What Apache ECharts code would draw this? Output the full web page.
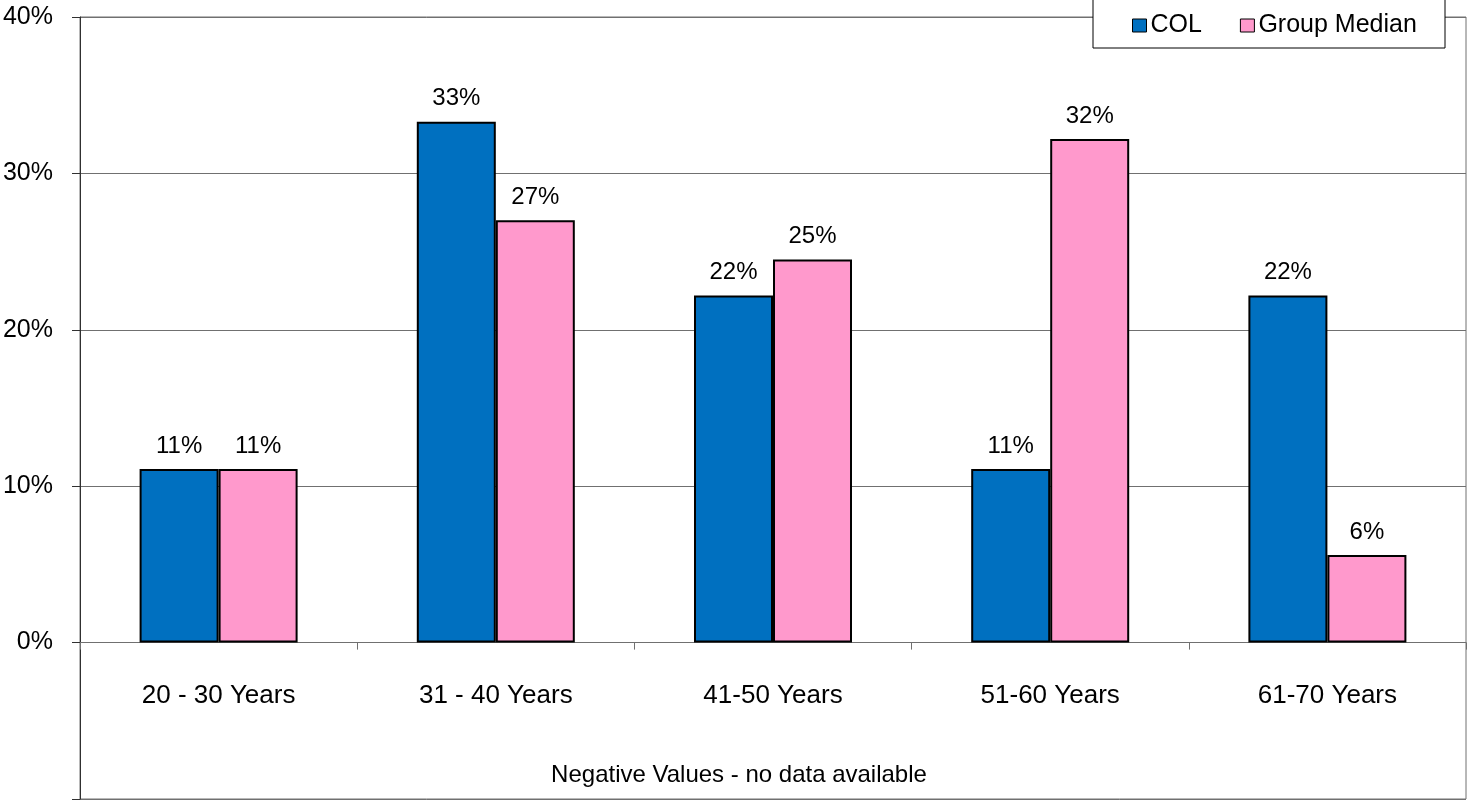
<!DOCTYPE html>
<html>
<head>
<meta charset="utf-8">
<title>Age Distribution</title>
<script src="https://cdn.jsdelivr.net/npm/echarts@6/dist/echarts.min.js"></script>
<style>
  html, body { margin: 0; padding: 0; background: #fff; }
  #chart { width: 1467px; height: 800px; }
</style>
</head>
<body>
<div id="chart"></div>
<script>
// Age bands and share of people in each band (percent)
const categories = ['20 - 30 Years', '31 - 40 Years', '41-50 Years', '51-60 Years', '61-70 Years'];
const colValues = [11.1, 33.3, 22.2, 11.1, 22.2];
const medianValues = [11.1, 27.0, 24.5, 32.2, 5.6];
const seriesNames = ['COL', 'Group Median'];
const noteText = 'Negative Values - no data available';

const FONT = 'Arial, "Liberation Sans", sans-serif';

const Y_MIN = -10;
const Y_MAX = 40;
const GRID_TOP = 17;
const GRID_BOTTOM = 1;
const CHART_H = 800;

// The category axis sits on the 0% line, which is above the grid's bottom edge
const plotH = CHART_H - GRID_TOP - GRID_BOTTOM;
const zeroLift = plotH * (0 - Y_MIN) / (Y_MAX - Y_MIN);

const chart = echarts.init(document.getElementById('chart'), null, { renderer: 'canvas' });

const barLabel = {
  show: true,
  position: 'top',
  distance: 11,
  color: '#000',
  fontFamily: FONT,
  fontSize: 24,
  formatter: p => Math.round(p.value) + '%'
};

chart.setOption({
  animation: false,
  backgroundColor: '#fff',
  grid: {
    left: 80, right: 1, top: GRID_TOP, bottom: GRID_BOTTOM,
    containLabel: false,
    outerBoundsMode: 'none',
    show: true,
    borderColor: '#707070',
    borderWidth: 1,
    backgroundColor: 'transparent'
  },
  legend: {
    data: seriesNames,
    left: 1132,
    top: 13,
    padding: 0,
    itemGap: 38,
    itemWidth: 14,
    itemHeight: 13,
    icon: 'rect',
    z: 20,
    itemStyle: { borderColor: '#000', borderWidth: 1 },
    textStyle: { fontFamily: FONT, fontSize: 25, color: '#000', padding: [0, 0, 0, -1] }
  },
  xAxis: {
    type: 'category',
    data: categories,
    position: 'bottom',
    offset: -zeroLift,
    axisLine: { onZero: false, lineStyle: { color: '#707070', width: 1 } },
    axisTick: { show: true, length: 7, inside: false, lineStyle: { color: '#707070' } },
    axisLabel: { color: '#000', fontFamily: FONT, fontSize: 26, margin: 40 },
    splitLine: { show: false }
  },
  yAxis: {
    type: 'value',
    min: Y_MIN,
    max: Y_MAX,
    interval: 10,
    axisLine: { show: true, lineStyle: { color: '#303030', width: 1 } },
    axisTick: { show: true, length: 8, lineStyle: { color: '#303030' } },
    axisLabel: {
      color: '#000', fontFamily: FONT, fontSize: 25, margin: 27,
      formatter: v => (v < 0 ? '' : v + '%')
    },
    splitLine: { show: true, lineStyle: { color: '#707070', width: 1 } }
  },
  graphic: [
    {
      type: 'rect',
      z: 10,
      shape: { x: 1093, y: -1, width: 352, height: 49 },
      style: { fill: '#fff', stroke: '#000', lineWidth: 1 }
    },
    {
      type: 'text',
      z: 10,
      x: 739,
      y: 775,
      style: {
        text: noteText,
        fontFamily: FONT,
        fontSize: 24,
        fill: '#000',
        align: 'center',
        verticalAlign: 'middle'
      }
    }
  ],
  series: [
    {
      name: seriesNames[0],
      type: 'bar',
      data: colValues,
      barGap: '0%',
      barCategoryGap: '43%',
      itemStyle: { color: '#0070C0', borderColor: '#000', borderWidth: 2 },
      label: barLabel
    },
    {
      name: seriesNames[1],
      type: 'bar',
      data: medianValues,
      barGap: '0%',
      barCategoryGap: '43%',
      itemStyle: { color: '#FF99CC', borderColor: '#000', borderWidth: 2 },
      label: barLabel
    }
  ]
});
</script>
</body>
</html>
